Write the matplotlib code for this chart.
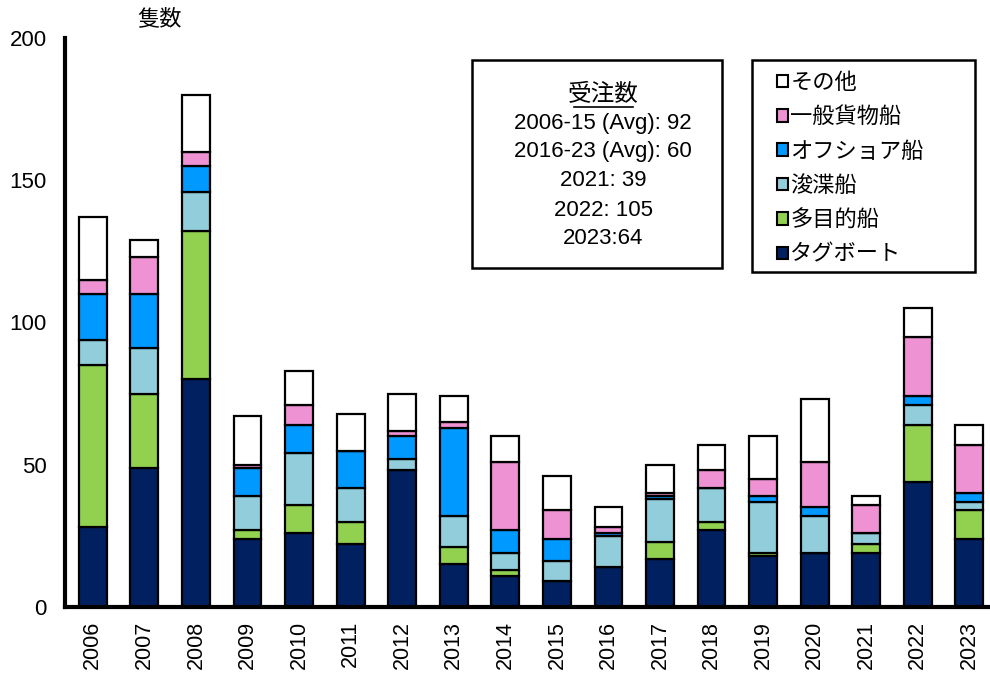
import numpy as np
import matplotlib
matplotlib.use("Agg")
import matplotlib.pyplot as plt
from matplotlib.patches import Patch, Rectangle
from matplotlib.lines import Line2D

plt.rcParams['font.family'] = ['Liberation Sans', 'Noto Sans CJK JP', 'DejaVu Sans']

years = [str(y) for y in range(2006, 2024)]

# Orders by ship type (number of vessels)
tug      = [28, 49, 80, 24, 26, 22, 48, 15, 11,  9, 14, 17, 27, 18, 19, 19, 44, 24]
multi    = [57, 26, 52,  3, 10,  8,  0,  6,  2,  0,  0,  6,  3,  1,  0,  3, 20, 10]
dredger  = [ 9, 16, 14, 12, 18, 12,  4, 11,  6,  7, 11, 15, 12, 18, 13,  4,  7,  3]
offshore = [16, 19,  9, 10, 10, 13,  8, 31,  8,  8,  1,  1,  0,  2,  3,  0,  3,  3]
cargo    = [ 5, 13,  5,  1,  7,  0,  2,  2, 24, 10,  2,  1,  6,  6, 16, 10, 21, 17]
other    = [22,  6, 20, 17, 12, 13, 13,  9,  9, 12,  7, 10,  9, 15, 22,  3, 10,  7]

series_names = ['タグボート', '多目的船', '浚渫船', 'オフショア船', '一般貨物船', 'その他']
series_vals = [tug, multi, dredger, offshore, cargo, other]
series_colors = ['#002060', '#92D050', '#92CDDC', '#0099FF', '#EE92D4', '#FFFFFF']

fig = plt.figure(figsize=(9.9, 6.75), dpi=100)
ax = fig.add_axes([65/990, 68/675, 1 - 65/990, (607 - 38)/675])

x = np.arange(len(years))
bottom = np.zeros(len(years))
for name, vals, col in zip(series_names, series_vals, series_colors):
    v = np.array(vals, dtype=float)
    ax.bar(x, v, bottom=bottom, width=0.54, color=col, edgecolor='black',
           linewidth=1.6, label=name, zorder=2)
    bottom += v

totals = bottom

ax.set_ylim(0, 200)
ax.set_xlim(-0.54, 17.4)
ax.set_yticks([0, 50, 100, 150, 200])
ax.set_yticklabels(['0', '50', '100', '150', '200'], fontsize=16)
ax.set_xticks(x)
ax.set_xticklabels(years, rotation=90, fontsize=15.5)
ax.tick_params(axis='both', length=0)
ax.tick_params(axis='y', pad=13)
ax.tick_params(axis='x', pad=10)

for s in ['top', 'right']:
    ax.spines[s].set_visible(False)
for s in ['left', 'bottom']:
    ax.spines[s].set_linewidth(3)
    ax.spines[s].set_color('black')

fig.text(160/990, 1 - 20/675, '隻数', fontsize=16, ha='center', va='center')

# Summary box of order counts
avg_0615 = int(round(np.mean(totals[0:10])))
avg_1623 = int(round(np.mean(totals[10:18])))
box = Rectangle((472/990, 1 - 268/675), 250/990, 208/675, transform=fig.transFigure,
                facecolor='white', edgecolor='black', linewidth=1.8, zorder=5)
fig.patches.append(box)
cx = 603/990
fig.text(cx, 1 - 95/675, '受注数', fontsize=17, ha='center', va='center', zorder=6)
lines = [
    (f'2006-15 (Avg): {avg_0615}', 124),
    (f'2016-23 (Avg): {avg_1623}', 152),
    (f'2021: {int(totals[15])}', 181),
    (f'2022: {int(totals[16])}', 210),
    (f'2023:{int(totals[17])}', 238),
]
for txt, yy in lines:
    fig.text(cx, 1 - yy/675, txt, fontsize=16, ha='center', va='center', zorder=6)
fig.lines.append(Line2D([574/990, 633/990], [1 - 107/675, 1 - 107/675],
                        transform=fig.transFigure, color='black', linewidth=1.2, zorder=6))

# Legend with its own fixed-size frame
legbox = Rectangle((752/990, 1 - 272/675), 223/990, 212/675, transform=fig.transFigure,
                   facecolor='white', edgecolor='black', linewidth=1.8, zorder=5)
fig.patches.append(legbox)
handles = [Patch(facecolor=c, edgecolor='black', linewidth=1.5) for c in series_colors][::-1]
labels = series_names[::-1]
leg = fig.legend(handles, labels, loc='upper left', bbox_to_anchor=(777/990, 1 - 73/675),
                 fontsize=16, frameon=False,
                 handlelength=0.5, handleheight=0.5, handletextpad=0.1,
                 labelspacing=0.6, borderpad=0.0, borderaxespad=0)
leg.set_zorder(6)

fig.savefig('out.png', dpi=100)
